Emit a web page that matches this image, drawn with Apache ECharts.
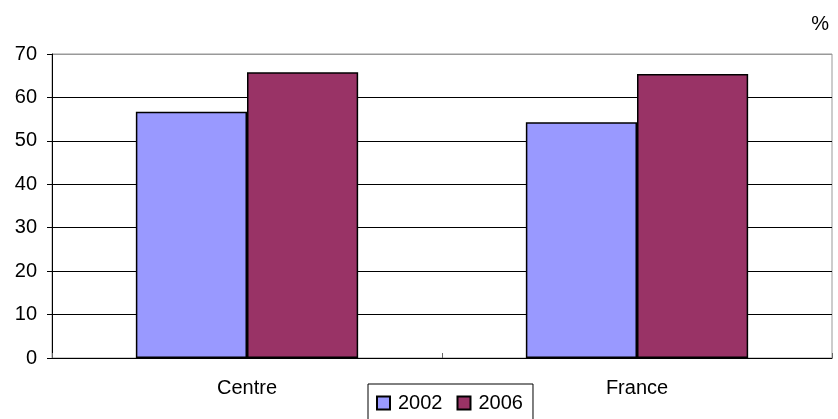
<!DOCTYPE html>
<html><head><meta charset="utf-8">
<script src="https://cdn.jsdelivr.net/npm/echarts@6/dist/echarts.min.js"></script>
<style>html,body{margin:0;padding:0;background:#fff}#c{width:838px;height:419px}</style>
</head><body><div id="c"></div>
<script>
const categories = ['Centre', 'France'];
const series2002 = [56.7, 54.3];
const series2006 = [65.8, 65.4];
const yTicks = [0, 10, 20, 30, 40, 50, 60, 70];

const chart = echarts.init(document.getElementById('c'), null, {renderer: 'canvas'});
const font = 'Liberation Sans, Arial, sans-serif';
chart.setOption({
  animation: false,
  textStyle: {fontFamily: font},
  grid: {left: 52, right: 6, top: 54, bottom: 61, show: true, borderColor: '#999', borderWidth: 1},
  graphic: [{type: 'text', right: 9, top: 14, style: {text: '%', font: '20px ' + font, fill: '#000'}}],
  xAxis: {
    type: 'category', data: categories,
    axisLine: {lineStyle: {color: '#000', width: 1}},
    axisTick: {show: true, inside: true, length: 5, lineStyle: {color: '#666'}},
    axisLabel: {color: '#000', fontSize: 20, fontFamily: font, margin: 20}
  },
  yAxis: {
    type: 'value', min: yTicks[0], max: yTicks[yTicks.length - 1], interval: 10,
    axisLine: {show: true, lineStyle: {color: '#000', width: 1}},
    axisTick: {show: true, length: 5, lineStyle: {color: '#000'}},
    axisLabel: {color: '#000', fontSize: 20, fontFamily: font, margin: 15},
    splitLine: {show: true, lineStyle: {color: ['#000', '#000', '#000', '#000', '#000', '#000', '#000', '#999'], width: 1}}
  },
  legend: {
    left: 368, top: 384, padding: [9, 10, 9, 8], itemGap: 14,
    borderColor: '#000', borderWidth: 1, backgroundColor: '#fff',
    itemWidth: 13, itemHeight: 13, icon: 'rect',
    textStyle: {color: '#000', fontSize: 20, fontFamily: font, padding: [0, 0, 0, 3]},
    data: ['2002', '2006']
  },
  series: [
    {name: '2002', type: 'bar', data: series2002, barGap: '0%', barCategoryGap: '43%',
     itemStyle: {color: '#9999ff', borderColor: '#000', borderWidth: 1.5}},
    {name: '2006', type: 'bar', data: series2006,
     itemStyle: {color: '#993366', borderColor: '#000', borderWidth: 1.5}}
  ]
});
</script></body></html>
